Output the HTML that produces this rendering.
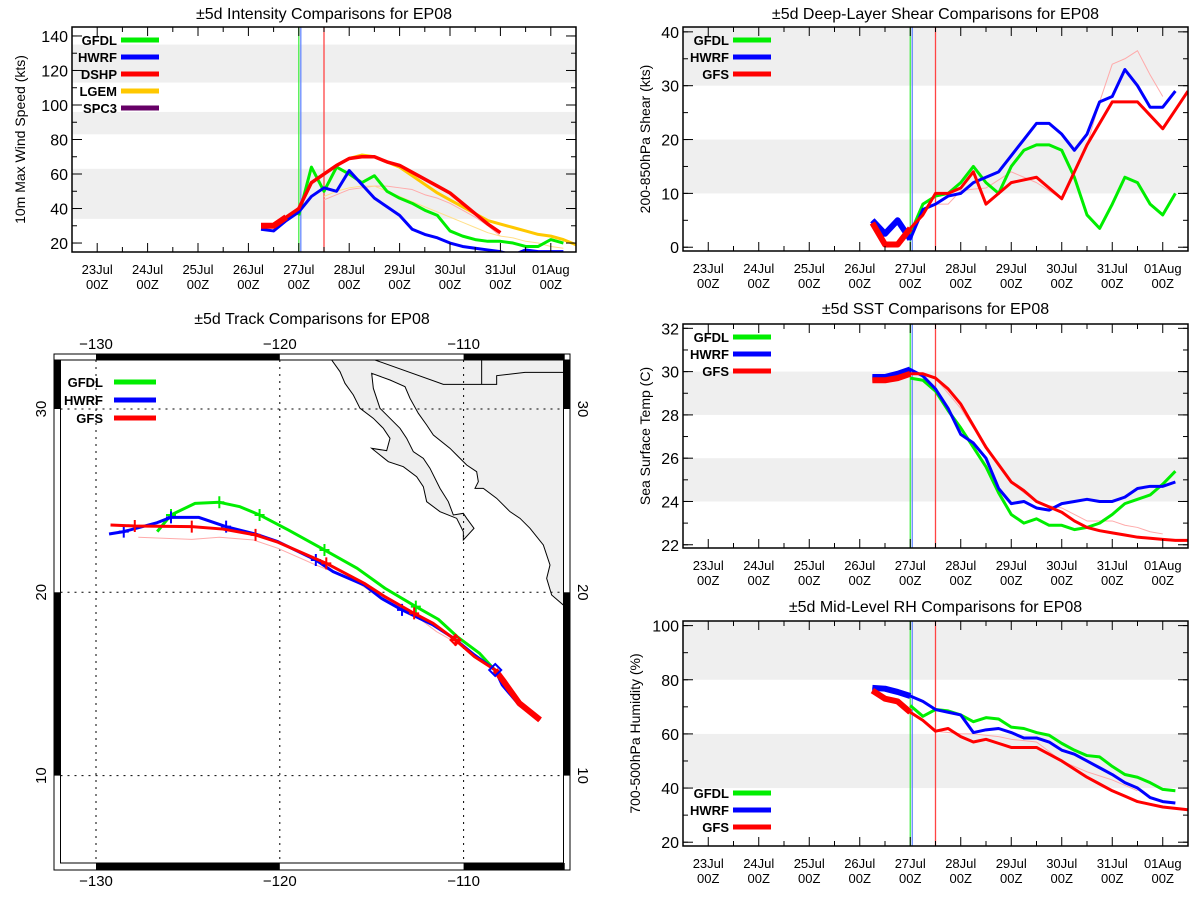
<!DOCTYPE html>
<html><head><meta charset="utf-8"><style>
body{margin:0;background:#fff}
svg{display:block;font-family:"Liberation Sans",sans-serif}
</style></head><body>
<svg id="s" width="1200" height="900" viewBox="0 0 1200 900"></svg>
<script>
// ---- shared time axis data ----
const dayLabels=["23Jul","24Jul","25Jul","26Jul","27Jul","28Jul","29Jul","30Jul","31Jul","01Aug"];
const hourLabel="00Z";
// ---- intensity ----
const intTicks=[20,40,60,80,100,120,140];
const intBands=[[34,63],[83,96],[113,135]];
const intGFDL=[36,64,50,64,60,55,59,50,46,43,39,36,27,24,22,21,21,20,18,18,22,20];
const intHWRF=[28,27,33,38,47,52,50,62,54,46,41,36,28,25,23,20,18,17,16,15,13,16,15,15,15];
const intDSHP=[30,30,35,40,55,60,65,69,70,70,67,65,61,57,53,49,43,37,31,26];
const intLGEM=[30,30,35,40,55,60,65,69,71,70,67,64,59,54,49,45,41,37,33,31,29,27,25,24,22,19];
const intPinkThin=[45,48,51,52,53,53,52,51,48,46,43,39,35,30,24];
const intOrangeThin=[47,50,52,53,53,50,47,44,41,38,35,32,29,26,24,23,21,20,18,17];
// ---- shear ----
const shTicks=[0,10,20,30,40];
const shBands=[[10,20],[30,45]];
const shGFDL=[2.5,8,9.5,10,12,15,12,10,15,18,19,19,18,13,6,3.5,8,13,12,8,6,10];
const shHWRF=[5,2.5,5,1.5,7,8,9.5,10,12,13,14,17,20,23,23,21,18,21,27,28,33,30,26,26,29];
const shGFS=[4.5,0.5,0.5,3.5,6,10,10,11,14,8,10,12,12.5,13,11,9,14,19,23,27,27,27,24.5,22,25.5,29];
const shPink=[8,8,10.5,10.8,11,12.5,14,13,12,10.5,9,14,19,27,34,35,36.5,32,28];
// ---- SST ----
const sstTicks=[22,24,26,28,30,32];
const sstBands=[[24,26],[28,30]];
const sstGFDL=[29.7,29.6,29.1,28.2,27.4,26.5,25.6,24.4,23.4,23.0,23.2,22.9,22.9,22.7,22.8,23.0,23.4,23.9,24.1,24.3,24.8,25.4];
const sstHWRF=[29.75,29.75,29.9,30.1,29.8,29.2,28.3,27.1,26.7,26.0,24.6,23.9,24.0,23.7,23.6,23.9,24.0,24.1,24.0,24.0,24.2,24.6,24.7,24.7,24.9];
const sstGFS=[29.6,29.6,29.7,29.9,29.9,29.7,29.2,28.5,27.5,26.5,25.7,24.9,24.5,24.0,23.75,23.5,23.1,22.8,22.65,22.55,22.45,22.35,22.3,22.25,22.2,22.2];
const sstPink=[29.7,29.0,28.3,27.4,26.6,25.7,24.9,24.4,24.0,23.8,23.7,23.4,23.1,23.1,23.1,22.9,22.8,22.6,22.5];
// ---- RH ----
const rhTicks=[20,40,60,80,100];
const rhBands=[[40,60],[80,105]];
const rhGFDL=[70.5,66.5,69,68.5,67,64.5,66,65.5,62.5,62,60.5,59.5,56.5,54,52,51.5,48,45,44,42,39.5,39];
const rhHWRF=[77,76.7,75.5,74,72,69,68,67,60.5,61.5,62,60.5,58.5,58.5,57,54,52.5,50,47.5,45,42,40,36.5,35,34.5];
const rhGFS=[76,73,72,68,65,61,62,59,57,58,56.5,55,55,55,52.5,50,47,44,41.5,39,37,35,34,33,32.5,32];
const rhPink=[61,60.5,60,60,59.5,59,58,57.5,57,53.5,50,48,46,44.5,43,41,39];
// ---- track (lon, lat) ----
const trkGFDLlon=[-126.67,-125.92,-124.61,-123.29,-122.17,-121.10,-119.54,-117.57,-115.79,-114.28,-112.60,-111.38,-110.35,-109.13,-108.28];
const trkGFDLlat=[23.31,24.22,24.85,24.91,24.67,24.22,23.40,22.31,21.31,20.22,19.22,18.53,17.58,16.67,15.73];
const trkHWRFlon=[-129.29,-128.49,-126.67,-125.92,-124.42,-122.92,-121.32,-120.10,-118.04,-117.10,-115.41,-114.47,-113.35,-111.66,-110.53,-109.41,-108.28,-107.90,-106.97,-105.84];
const trkHWRFlat=[23.18,23.31,23.80,24.09,24.09,23.58,23.18,22.76,21.76,21.13,20.40,19.67,19.04,18.22,17.49,16.58,15.76,14.95,13.85,13.04];
const trkGFSlon=[-129.21,-127.89,-124.79,-123.10,-121.32,-120.10,-117.47,-115.41,-114.28,-112.69,-111.66,-110.44,-109.41,-108.28,-107.81,-106.97,-105.84];
const trkGFSlat=[23.67,23.62,23.58,23.45,23.13,22.73,21.58,20.49,19.76,18.85,18.31,17.40,16.49,15.76,15.13,13.95,13.04];
const trkPinkLon=[-127.70,-124.79,-123.29,-121.42,-120.10,-118.04,-116.16,-114.28,-112.78,-111.47,-110.35];
const trkPinkLat=[23.0,22.89,23.0,22.85,22.4,21.49,20.76,19.58,18.85,17.85,17.22];
const trkGFDLmarks=[1,3,5,7,10];
const trkHWRFmarks=[1,3,5,8,12];
const trkGFSmarks=[1,2,4,6,9,11];

const NS="http://www.w3.org/2000/svg";
const svg=document.getElementById('s');
function el(tag,attrs,parent){const e=document.createElementNS(NS,tag);for(const k in attrs)e.setAttribute(k,attrs[k]);(parent||svg).appendChild(e);return e;}
function txt(s,attrs,parent){const e=el('text',attrs,parent);e.textContent=s;return e;}
const GREEN="#00ee00",BLUE="#0000ff",RED="#ff0000",ORANGE="#ffc800",PURPLE="#660066",PINK="#ffaaaa";

let clipN=0;
function panel(P){
  const g=el('g',{});
  
  
  const xs=d=>P.x0+(d+0.5)/10*(P.x1-P.x0);
  const ys=v=>P.y1-(v-P.ymin)/(P.ymax-P.ymin)*(P.y1-P.y0);
  const t=txt(P.title,{x:(P.x0+P.x1)/2,y:P.ty,'text-anchor':'middle','font-size':16},g);
  
  const id='c'+(clipN++);
  const cp=el('clipPath',{id},g);el('rect',{x:P.x0,y:P.y0,width:P.x1-P.x0,height:P.y1-P.y0},cp);
  const pg=el('g',{'clip-path':'url(#'+id+')'},g);
  P.bands.forEach(b=>{const r=el('rect',{x:P.x0,y:ys(b[1]),width:P.x1-P.x0,height:ys(b[0])-ys(b[1]),fill:'#efefef'},pg);
    });
  [[4.0,'#44ee44'],[4.04,'#6688ff'],[4.5,'#ff4444']].forEach(v=>{const l=el('line',{x1:xs(v[0]),x2:xs(v[0]),y1:P.y0,y2:P.y1,stroke:v[1],'stroke-width':1.3},pg);
    });
  P.series.forEach(s=>{
    const pts=s.vals.map((v,i)=>xs(s.start+i*0.25)+','+ys(v)).join(' ');
    const l=el('polyline',{points:pts,fill:'none',stroke:s.color,'stroke-width':s.w,'stroke-linejoin':'round'},pg);
    
    if(s.thick){const p2=s.vals.slice(0,s.thick).map((v,i)=>xs(s.start+i*0.25)+','+ys(v)).join(' ');
      const l2=el('polyline',{points:p2,fill:'none',stroke:s.color,'stroke-width':6,'stroke-linejoin':'round'},pg);
      }
  });
  const fr=el('rect',{x:P.x0,y:P.y0,width:P.x1-P.x0,height:P.y1-P.y0,fill:'none',stroke:'#000','stroke-width':1.5},g);
  
  for(let h=-0.5;h<=9.5;h+=0.5){const x=xs(h),L=(Math.abs(h-Math.round(h))<0.01)?9:5;
    el('line',{x1:x,x2:x,y1:P.y1,y2:P.y1-L,stroke:'#000'},g);el('line',{x1:x,x2:x,y1:P.y0,y2:P.y0+L,stroke:'#000'},g);}
  dayLabels.forEach((d,i)=>{const a=txt(d,{x:xs(i),y:P.y1+22,'text-anchor':'middle','font-size':13},g);
    
    const b=txt(hourLabel,{x:xs(i),y:P.y1+37,'text-anchor':'middle','font-size':13},g);
    });
  for(let v=Math.ceil(P.ymin/P.minor)*P.minor;v<=P.ymax;v+=P.minor){const y=ys(v);
    el('line',{x1:P.x0,x2:P.x0+5,y1:y,y2:y,stroke:'#000'},g);el('line',{x1:P.x1,x2:P.x1-5,y1:y,y2:y,stroke:'#000'},g);}
  P.ticks.forEach(v=>{const y=ys(v);
    el('line',{x1:P.x0,x2:P.x0+10,y1:y,y2:y,stroke:'#000'},g);el('line',{x1:P.x1,x2:P.x1-10,y1:y,y2:y,stroke:'#000'},g);
    const a=txt(String(v),{x:P.x0-4,y:y+6,'text-anchor':'end','font-size':16},g);
    });
  const yt=txt(P.ytitle,{x:P.yx,y:(P.y0+P.y1)/2,'text-anchor':'middle','font-size':14,transform:`rotate(-90 ${P.yx} ${(P.y0+P.y1)/2})`},g);
  
  P.legend.forEach((L,i)=>{const y=P.ly+i*17;
    const lg=el('g',{},g);
    txt(L[0],{x:P.lx,y:y+5,'text-anchor':'end','font-size':13,'font-weight':'bold'},lg);
    el('line',{x1:P.lx+4,x2:P.lx+42,y1:y,y2:y,stroke:L[1],'stroke-width':5},lg);});
}

panel({name:'intensity-chart',title:'±5d Intensity Comparisons for EP08',ty:19,x0:72,x1:576,y0:27,y1:252,ymin:14.8,ymax:145.2,
  ticks:intTicks,minor:10,bands:intBands,ytitle:'10m Max Wind Speed (kts)',yx:25,lx:117,ly:40,
  legend:[['GFDL',GREEN],['HWRF',BLUE],['DSHP',RED],['LGEM',ORANGE],['SPC3',PURPLE]],
  series:[{name:'pink-thin-line',vals:intPinkThin,start:4.5,color:PINK,w:1},
    {name:'orange-thin-line',vals:intOrangeThin,start:4.5,color:'#ffe08a',w:1},
    {name:'lgem-line',vals:intLGEM,start:3.25,color:ORANGE,w:3},
    {name:'gfdl-line',vals:intGFDL,start:4,color:GREEN,w:3},
    {name:'hwrf-line',vals:intHWRF,start:3.25,color:BLUE,w:3},
    {name:'dshp-line',vals:intDSHP,start:3.25,color:RED,w:3.5,thick:3}]});
panel({name:'shear-chart',title:'±5d Deep-Layer Shear Comparisons for EP08',ty:19,x0:683,x1:1188,y0:27,y1:251,ymin:-0.7,ymax:40.9,
  ticks:shTicks,minor:5,bands:shBands,ytitle:'200-850hPa Shear (kts)',yx:650,lx:729,ly:40,
  legend:[['GFDL',GREEN],['HWRF',BLUE],['GFS',RED]],
  series:[{name:'pink-thin-line',vals:shPink,start:4.5,color:PINK,w:1},
    {name:'gfdl-line',vals:shGFDL,start:4,color:GREEN,w:3},
    {name:'hwrf-line',vals:shHWRF,start:3.25,color:BLUE,w:3,thick:4},
    {name:'gfs-line',vals:shGFS,start:3.25,color:RED,w:3,thick:4}]});
panel({name:'sst-chart',title:'±5d SST Comparisons for EP08',ty:314,x0:683,x1:1188,y0:324,y1:548,ymin:21.85,ymax:32.2,
  ticks:sstTicks,minor:1,bands:sstBands,ytitle:'Sea Surface Temp (C)',yx:650,lx:729,ly:337,
  legend:[['GFDL',GREEN],['HWRF',BLUE],['GFS',RED]],
  series:[{name:'pink-thin-line',vals:sstPink,start:4.5,color:PINK,w:1},
    {name:'gfdl-line',vals:sstGFDL,start:4,color:GREEN,w:3},
    {name:'hwrf-line',vals:sstHWRF,start:3.25,color:BLUE,w:3,thick:4},
    {name:'gfs-line',vals:sstGFS,start:3.25,color:RED,w:3,thick:4}]});
panel({name:'rh-chart',title:'±5d Mid-Level RH Comparisons for EP08',ty:612,x0:683,x1:1188,y0:621,y1:846,ymin:18.6,ymax:101.7,
  ticks:rhTicks,minor:10,bands:rhBands,ytitle:'700-500hPa Humidity (%)',yx:640,lx:729,ly:793,
  legend:[['GFDL',GREEN],['HWRF',BLUE],['GFS',RED]],
  series:[{name:'pink-thin-line',vals:rhPink,start:4.5,color:PINK,w:1},
    {name:'gfdl-line',vals:rhGFDL,start:4,color:GREEN,w:3},
    {name:'hwrf-line',vals:rhHWRF,start:3.25,color:BLUE,w:3,thick:4},
    {name:'gfs-line',vals:rhGFS,start:3.25,color:RED,w:3,thick:4}]});

// ---- track map ----
(function(){
  const M={x0:60.5,x1:563.5,y0:360,y1:863};
  const g=el('g',{});
  const lx=lon=>96+(lon+130)*18.38, ly=lat=>592.3-(lat-20)*18.33;
  const t=txt('±5d Track Comparisons for EP08',{x:312,y:324,'text-anchor':'middle','font-size':16},g);
  
  const cp=el('clipPath',{id:'mapclip'},g);el('rect',{x:M.x0,y:M.y0,width:M.x1-M.x0,height:M.y1-M.y0},cp);
  const pg=el('g',{'clip-path':'url(#mapclip)'},g);
  // coastline trace (map geometry) -> lon/lat
  const z2ll=(zx,zy)=>[-130+(330+zx/3-96)/18.38,20+(592.3-(355+zy/3))/18.33];
  const land=[[5,0],[5,15],[30,50],[45,85],[70,120],[90,160],[130,190],[160,220],[180,250],[170,287],[125,280],[150,300],[175,320],[220,335],[260,365],[280,395],[290,440],[330,470],[380,490],[400,530],[400,555],[432,520],[410,490],[400,475],[370,480],[355,440],[330,400],[300,340],[280,310],[250,290],[230,250],[210,220],[150,160],[130,100],[125,55],[180,75],[225,95],[240,130],[265,175],[290,210],[310,240],[360,280],[380,300],[410,330],[440,350],[445,380],[435,400],[460,400],[500,430],[540,470],[570,490],[600,520],[640,570],[660,630],[650,670],[665,720],[700,750],[730,760],[730,0]];
  const toP=arr=>arr.map(p=>{const a=z2ll(p[0],p[1]);return lx(a[0])+','+ly(a[1]);}).join(' ');
  const lp=el('polygon',{points:toP(land),fill:'#efefef',stroke:'#000','stroke-width':1},pg);
  
  el('polyline',{points:toP([[135,15],[340,88],[500,88],[500,62],[585,52],[730,52]]),fill:'none',stroke:'#000','stroke-width':1},pg);
  el('polyline',{points:toP([[455,0],[455,88]]),fill:'none',stroke:'#000','stroke-width':1},pg);
  [-130,-120,-110].forEach(l=>el('line',{x1:lx(l),x2:lx(l),y1:M.y0,y2:M.y1,stroke:'#000','stroke-dasharray':'2,5'},pg));
  [10,20,30].forEach(l=>el('line',{x1:M.x0,x2:M.x1,y1:ly(l),y2:ly(l),stroke:'#000','stroke-dasharray':'2,5'},pg));
  function track(name,lons,lats,color,w,marks){
    const p=lons.map((v,i)=>lx(v)+','+ly(lats[i])).join(' ');
    const l=el('polyline',{points:p,fill:'none',stroke:color,'stroke-width':w,'stroke-linejoin':'round'},pg);
    
    (marks||[]).forEach(i=>{const x=lx(lons[i]),y=ly(lats[i]);
      el('path',{d:`M${x-5},${y}H${x+5}M${x},${y-6}V${y+6}`,stroke:color,'stroke-width':2},pg);});
  }
  track('pink-thin-track',trkPinkLon,trkPinkLat,PINK,1);
  track('gfdl-track',trkGFDLlon,trkGFDLlat,GREEN,3,trkGFDLmarks);
  track('hwrf-track',trkHWRFlon,trkHWRFlat,BLUE,3,trkHWRFmarks);
  track('gfs-track',trkGFSlon,trkGFSlat,RED,3,trkGFSmarks);
  const late=trkGFSlon.slice(13).map((v,i)=>lx(v)+','+ly(trkGFSlat[13+i])).join(' ');
  el('polyline',{points:late,fill:'none',stroke:RED,'stroke-width':6},pg);
  const dx=lx(trkGFSlon[13]),dy=ly(trkGFSlat[13]);
  el('path',{d:`M${dx},${dy-6}L${dx+6},${dy}L${dx},${dy+6}L${dx-6},${dy}Z`,fill:'none',stroke:BLUE,'stroke-width':2},pg);
  const rx=lx(trkGFSlon[11]),ry=ly(trkGFSlat[11]);
  el('path',{d:`M${rx},${ry-5}L${rx+5},${ry}L${rx},${ry+5}L${rx-5},${ry}Z`,fill:'none',stroke:RED,'stroke-width':2},pg);
  el('rect',{x:54,y:354,width:516,height:516,fill:'none',stroke:'#000','stroke-width':1},g);
  el('rect',{x:M.x0,y:M.y0,width:M.x1-M.x0,height:M.y1-M.y0,fill:'none',stroke:'#000','stroke-width':1},g);
  [[-130,-120],[-110,-104.5]].forEach(s=>{el('rect',{x:lx(s[0]),y:354,width:lx(s[1])-lx(s[0]),height:6,fill:'#000'},g);
    el('rect',{x:lx(s[0]),y:863,width:lx(s[1])-lx(s[0]),height:7,fill:'#000'},g);});
  [[30,32.7],[10,20]].forEach(s=>{el('rect',{x:54,y:ly(s[1]),width:6.5,height:ly(s[0])-ly(s[1]),fill:'#000'},g);
    el('rect',{x:563.5,y:ly(s[1]),width:6.5,height:ly(s[0])-ly(s[1]),fill:'#000'},g);});
  [-130,-120,-110].forEach(l=>{
    const a=txt('−'+Math.abs(l),{x:lx(l),y:349,'text-anchor':'middle','font-size':15},g);
    const b=txt('−'+Math.abs(l),{x:lx(l),y:886,'text-anchor':'middle','font-size':15},g);});
  [10,20,30].forEach(l=>{const y=ly(l);
    const a=txt(String(l),{x:46,y:y,'text-anchor':'middle','font-size':15,transform:`rotate(-90 46 ${y})`},g);
    const b=txt(String(l),{x:578,y:y,'text-anchor':'middle','font-size':15,transform:`rotate(90 578 ${y})`},g);});
  [['GFDL',GREEN],['HWRF',BLUE],['GFS',RED]].forEach((L,i)=>{const y=382+i*18;
    const lg=el('g',{},g);
    txt(L[0],{x:103,y:y+5,'text-anchor':'end','font-size':13,'font-weight':'bold'},lg);
    el('line',{x1:114,x2:156,y1:y,y2:y,stroke:L[1],'stroke-width':5},lg);});
})();
</script>
</body></html>
